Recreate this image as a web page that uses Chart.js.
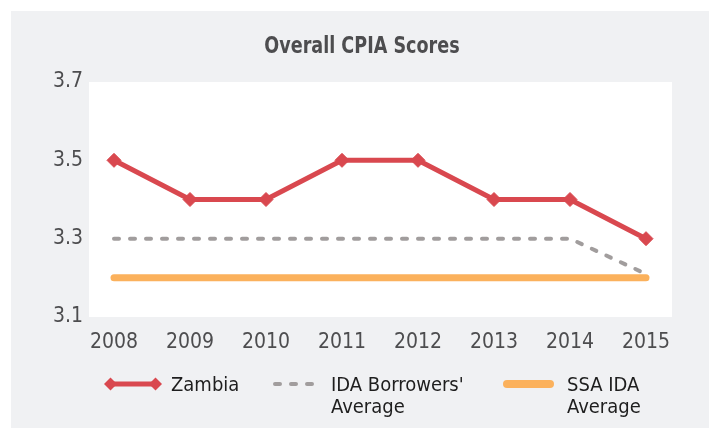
<!DOCTYPE html>
<html>
<head>
<meta charset="utf-8">
<script src="https://cdn.jsdelivr.net/npm/chart.js@4"></script>
<style>
  body { margin: 0; background: #ffffff; }
  #wrap { position: absolute; left: 11px; top: 11px; width: 698px; height: 417px; background: #f0f1f3; }
</style>
</head>
<body>
<div id="wrap"><canvas id="cpiaChart" width="698" height="417"></canvas></div>
<script>
const years = [2008, 2009, 2010, 2011, 2012, 2013, 2014, 2015];
const zambia = [3.5, 3.4, 3.4, 3.5, 3.5, 3.4, 3.4, 3.3];
const idaBorrowers = [3.3, 3.3, 3.3, 3.3, 3.3, 3.3, 3.3, 3.21];
const ssaIda = [3.2, 3.2, 3.2, 3.2, 3.2, 3.2, 3.2, 3.2];
const yTicks = [3.1, 3.3, 3.5, 3.7];
const titleText = 'Overall CPIA Scores';
const legendItems = [
    { lines: ['Zambia'], kind: 'diamond' },
    { lines: ['IDA Borrowers\'', 'Average'], kind: 'dash' },
    { lines: ['SSA IDA', 'Average'], kind: 'thick' }
];

const FONT = '"Liberation Sans Narrow", "DejaVu Sans Condensed", "Roboto", sans-serif';
const RED = '#d9484f';
const GREY = '#a19d9d';
const ORANGE = '#fbb15c';

const toPoints = vals => years.map((y, i) => ({ x: y, y: vals[i] }));

// white plot area, title and hand-drawn legend
const decor = {
    id: 'decor',
    beforeDatasetsDraw(chart) {
        const { ctx, chartArea: a } = chart;
        ctx.save();
        ctx.fillStyle = '#ffffff';
        ctx.fillRect(a.left, a.top, a.right - a.left, a.bottom - a.top);
        ctx.restore();
    },
    afterDraw(chart) {
        const ctx = chart.ctx;
        ctx.save();
        // condensed-looking title
        ctx.save();
        ctx.translate(351, 36);
        ctx.scale(0.85, 1);
        ctx.fillStyle = '#4d4d4f';
        ctx.font = 'bold 23px ' + FONT;
        ctx.textAlign = 'center';
        ctx.textBaseline = 'middle';
        ctx.fillText(titleText, 0, 0);
        ctx.restore();

        const ly = 373;
        // Zambia
        ctx.strokeStyle = RED;
        ctx.lineWidth = 5;
        ctx.beginPath(); ctx.moveTo(99, ly); ctx.lineTo(145, ly); ctx.stroke();
        ctx.fillStyle = RED;
        [99.5, 144.5].forEach(cx => {
            ctx.beginPath();
            ctx.moveTo(cx - 6.5, ly); ctx.lineTo(cx, ly - 6.5);
            ctx.lineTo(cx + 6.5, ly); ctx.lineTo(cx, ly + 6.5);
            ctx.closePath(); ctx.fill();
        });
        // IDA
        ctx.strokeStyle = GREY;
        ctx.lineWidth = 4;
        ctx.lineCap = 'round';
        ctx.setLineDash([5, 11]);
        ctx.beginPath(); ctx.moveTo(264, ly); ctx.lineTo(303, ly); ctx.stroke();
        ctx.setLineDash([]);
        // SSA
        ctx.strokeStyle = ORANGE;
        ctx.lineWidth = 8;
        ctx.beginPath(); ctx.moveTo(496, ly); ctx.lineTo(539, ly); ctx.stroke();

        ctx.fillStyle = '#1e1e1e';
        ctx.font = '20px ' + FONT;
        ctx.textAlign = 'left';
        ctx.textBaseline = 'middle';
        const textX = [160, 320, 556];
        legendItems.forEach((item, i) => {
            item.lines.forEach((t, j) => ctx.fillText(t, textX[i], 375 + j * 22));
        });
        ctx.restore();
    }
};

new Chart(document.getElementById('cpiaChart'), {
    type: 'line',
    plugins: [decor],
    data: {
        datasets: [
            {
                label: 'SSA IDA Average',
                data: toPoints(ssaIda),
                borderColor: ORANGE,
                borderWidth: 7,
                borderCapStyle: 'round',
                pointRadius: 0,
                order: 3
            },
            {
                label: 'IDA Borrowers\' Average',
                data: toPoints(idaBorrowers),
                borderColor: GREY,
                borderWidth: 4,
                borderDash: [5, 11],
                borderCapStyle: 'round',
                pointRadius: 0,
                order: 2
            },
            {
                label: 'Zambia',
                data: toPoints(zambia),
                borderColor: RED,
                backgroundColor: RED,
                borderWidth: 5,
                pointStyle: 'rectRot',
                pointRadius: 7,
                pointBorderWidth: 1,
                order: 1
            }
        ]
    },
    options: {
        responsive: false,
        animation: false,
        clip: false,
        layout: { padding: { top: 71, right: 37, left: 0, bottom: 0 } },
        plugins: {
            legend: { display: false },
            title: { display: false },
            tooltip: { enabled: false }
        },
        scales: {
            x: {
                type: 'linear',
                min: 2008 - 25 / 76,
                max: 2015 + 26 / 76,
                border: { display: false },
                grid: { display: false, drawTicks: false },
                afterBuildTicks: s => { s.ticks = years.map(v => ({ value: v })); },
                afterFit: s => { s.height = 111; },
                ticks: {
                    padding: 13,
                    color: '#4d4d4f',
                    font: { family: FONT, size: 21 },
                    callback: v => String(v)
                }
            },
            y: {
                min: 3.1,
                max: 3.7,
                border: { display: false },
                grid: { display: false, drawTicks: false },
                afterBuildTicks: s => { s.ticks = yTicks.map(v => ({ value: v })); },
                afterFit: s => { s.width = 78; },
                ticks: {
                    padding: 6,
                    color: '#4d4d4f',
                    font: { family: FONT, size: 21 },
                    callback: v => v.toFixed(1)
                }
            }
        }
    }
});
</script>
</body>
</html>
